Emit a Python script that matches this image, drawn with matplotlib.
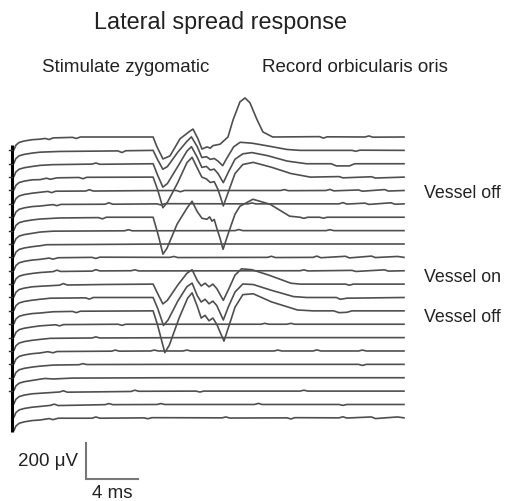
import matplotlib
matplotlib.use("Agg")
import matplotlib.pyplot as plt

plt.rcParams["font.family"] = ["Liberation Sans", "DejaVu Sans"]

# every sweep: (time ms, amplitude uV) keypoints, relative to the sweep's own baseline
start_t = [0.0, 0.15, 0.4, 0.8, 1.4]
start_v = [-70, -45, -30, -22, -15]

sweep_00 = [(2.0, -12), (2.4, -8), (2.7, -14), (3.0, -5), (4.5, -2), (4.8, -8), (5.1, 0), (10.7, 0), (11.0, -55),
            (11.46, -122), (12.0, -105), (12.77, -10), (13.54, 33), (13.77, 44), (14.15, -10), (14.46, -67),
            (14.85, -55), (15.1, -62), (15.3, -48), (15.85, -40), (16.46, 0), (16.85, 95), (17.38, 195),
            (17.77, 217), (18.15, 190), (18.7, 95), (19.15, 28), (19.9, 0), (23.5, 2), (23.8, -6), (24.1, 1),
            (27.0, 0), (27.3, 6), (27.6, -1), (30.0, 0)]
sweep_01 = [(2.0, -10), (3.5, -6), (8.0, -3), (8.3, -12), (8.6, -2), (10.7, 0), (11.0, -45), (11.45, -105),
            (11.8, -90), (12.6, -10), (13.3, 50), (13.65, 75), (14.1, 20), (14.45, -40), (14.8, -35),
            (15.1, -50), (15.4, -45), (15.7, -60), (16.05, -85), (16.4, -40), (16.9, 20), (17.4, 45),
            (18.3, 40), (19.5, 25), (21.0, 5), (22.0, 0), (26.0, 0), (26.3, -5), (26.6, 1), (30.0, 0)]
sweep_02 = [(2.0, -9), (3.0, -5), (6.0, -2), (6.3, 4), (6.6, -3), (10.7, 0), (11.0, -55), (11.45, -130),
            (11.8, -110), (12.6, -15), (13.3, 70), (13.65, 95), (14.1, 35), (14.45, -20), (14.8, -15),
            (15.1, -35), (15.4, -30), (15.7, -55), (16.1, -105), (16.5, -45), (17.0, 25), (17.6, 55),
            (18.3, 62), (19.5, 45), (21.0, 15), (22.5, 0), (24.4, 0), (24.8, -12), (25.8, -12), (26.2, 0),
            (30.0, 0)]
sweep_03 = [(2.0, -14), (2.5, -6), (2.8, -12), (3.3, -4), (5.0, -2), (5.3, -9), (5.6, -1), (10.7, 0),
            (11.05, -70), (11.45, -170), (11.8, -140), (12.6, -30), (13.3, 80), (13.7, 110), (14.1, 50),
            (14.45, 0), (14.8, -10), (15.1, -30), (15.4, -25), (15.7, -70), (16.1, -160), (16.5, -80),
            (17.0, 20), (17.6, 70), (18.4, 82), (19.8, 55), (21.3, 20), (22.8, 0), (25.0, 3), (25.3, -4),
            (27.5, 2), (27.8, -5), (30.0, 0)]
sweep_04 = [(2.0, -10), (2.6, -5), (2.9, -12), (3.2, -4), (5.5, -3), (5.8, 4), (6.1, -3), (9.5, -1),
            (12.5, 0), (12.8, -7), (13.1, 0), (20.5, 0), (20.8, 5), (21.1, -1), (24.0, 0), (24.3, 6),
            (24.6, -2), (26.5, 3), (26.8, -4), (28.5, 5), (28.8, -3), (30.0, 0)]
sweep_05 = [(2.0, -12), (3.0, -4), (3.3, -10), (3.6, -3), (7.0, -2), (7.3, 6), (7.6, -2), (11.0, 0),
            (11.3, -6), (11.6, 1), (18.0, 0), (18.3, 5), (18.6, 0), (25.0, 0), (25.3, 7), (25.6, -1),
            (27.0, 4), (27.3, -3), (29.0, 6), (29.3, -2), (30.0, 0)]
sweep_06 = [(2.0, -10), (3.5, -4), (6.5, -2), (6.8, -9), (7.1, 0), (10.7, 0), (11.08, -95), (11.46, -205),
            (11.77, -172), (12.54, -39), (13.3, 50), (13.7, 89), (14.08, 33), (14.46, -6), (14.85, -11),
            (15.05, 2), (15.23, -22), (15.4, -12), (15.6, -61), (15.85, -117), (16.08, -178), (16.46, -95),
            (17.0, 17), (17.38, 61), (18.38, 100), (19.7, 72), (21.2, 6), (22.0, 0), (22.3, -6), (22.6, 0),
            (23.5, 0), (23.8, -5), (24.1, 0), (30.0, 0)]
sweep_07 = [(2.0, -8), (3.0, -3), (8.5, -1), (8.8, 5), (9.1, -1), (17.0, 0), (17.3, 6), (17.6, 0),
            (24.0, 0), (24.3, 5), (24.6, 0), (30.0, 0)]
sweep_08 = [(2.0, -10), (2.5, -4), (5.0, -3), (12.0, 0), (30.0, 0)]
sweep_09 = [(2.0, -11), (2.7, -4), (3.0, -10), (3.4, -2), (6.0, 0), (6.3, -6), (6.6, 1), (12.0, 0),
            (12.3, 5), (12.6, -1), (19.5, 0), (19.8, 6), (20.1, -1), (23.0, 0), (23.3, 7), (23.6, -2),
            (25.5, 6), (25.8, -3), (27.5, 7), (27.8, -1), (29.5, 5), (30.0, 0)]
sweep_10 = [(2.0, -10), (3.0, -5), (3.3, 3), (3.6, -4), (6.0, -2), (6.3, 6), (6.6, -1), (9.0, 0),
            (9.3, 5), (9.6, -1), (22.0, 0), (22.3, 5), (22.6, -1), (26.0, 2), (26.3, -4), (28.5, 5),
            (28.8, -2), (30.0, 0)]
sweep_11 = [(2.0, -12), (3.5, -6), (3.8, 3), (4.1, -5), (7.0, -2), (10.7, 0), (11.0, -45), (11.45, -110),
            (11.8, -90), (12.6, -5), (13.3, 60), (13.7, 80), (14.1, 20), (14.4, -10), (14.7, 5),
            (15.0, -15), (15.3, 0), (15.6, -25), (16.1, -90), (16.5, -30), (17.0, 50), (17.5, 85),
            (18.3, 80), (19.6, 50), (21.3, 5), (22.0, 0), (25.5, 0), (25.8, -6), (26.1, 0), (30.0, 0)]
sweep_12 = [(2.0, -10), (2.8, -4), (5.5, -2), (5.8, -9), (6.1, 0), (10.7, 0), (11.05, -60), (11.5, -155),
            (11.85, -125), (12.6, -20), (13.3, 60), (13.7, 80), (14.1, 10), (14.4, -25), (14.7, -10),
            (15.0, -35), (15.3, -20), (15.6, -45), (16.1, -125), (16.5, -50), (17.0, 30), (17.6, 75),
            (18.4, 72), (19.8, 40), (21.5, 5), (22.5, 0), (24.8, 0), (25.1, -10), (25.6, -4), (30.0, 0)]
sweep_13 = [(2.0, -12), (3.0, -5), (4.5, -3), (4.8, -10), (5.1, -2), (10.7, 0), (11.05, -80),
            (11.6, -232), (11.95, -190), (12.7, -40), (13.35, 70), (13.7, 100), (14.1, 25), (14.4, -40),
            (14.7, -25), (15.0, -55), (15.3, -40), (15.6, -75), (16.15, -168), (16.55, -80), (17.0, 20),
            (17.6, 90), (18.4, 95), (19.8, 50), (21.8, 5), (23.0, 0), (24.6, 0), (25.0, -10), (25.6, -8),
            (26.0, 0), (30.0, 0)]
sweep_14 = [(2.0, -9), (3.2, -3), (3.5, -9), (3.8, -2), (8.0, 0), (8.3, -6), (8.6, 0), (19.0, 0),
            (19.3, 5), (19.6, 0), (21.0, 0), (21.3, 5), (21.6, 0), (30.0, 0)]
sweep_15 = [(2.0, -10), (2.8, -4), (6.0, -2), (6.3, 4), (6.6, -2), (14.0, 0), (30.0, 0)]
sweep_16 = [(2.0, -11), (2.6, -4), (3.0, -10), (3.3, -3), (7.5, -1), (7.8, 5), (8.1, -1), (10.5, 0),
            (10.8, 5), (11.1, 0), (13.0, 0), (13.3, 5), (13.6, 0), (20.0, 0), (20.3, 5), (20.6, 0),
            (23.0, 0), (23.3, 6), (23.6, 0), (26.5, 0), (26.8, 5), (27.1, 0), (30.0, 0)]
sweep_17 = [(2.0, -10), (3.0, -4), (5.0, -2), (5.3, 4), (5.6, -1), (12.0, 0), (26.5, 0), (26.8, -6),
            (27.1, 0), (30.0, 0)]
sweep_18 = [(2.0, -8), (2.4, -4), (3.0, -7), (4.5, -2), (12.0, 0), (30.0, 0)]
sweep_19 = [(2.0, -12), (3.5, -5), (3.8, 2), (4.1, -6), (9.0, -2), (9.3, 5), (9.6, -1), (14.0, 0),
            (14.3, -5), (14.6, 0), (22.0, 0), (22.3, 5), (22.6, 0), (30.0, 0)]
sweep_20 = [(2.0, -11), (2.8, -5), (3.1, 2), (3.4, -6), (7.0, -1), (7.3, 5), (7.6, -1), (11.0, 0),
            (11.3, 5), (11.6, 0), (18.5, 0), (18.8, 6), (19.1, 0), (25.0, 0), (25.3, -5), (25.6, 0),
            (30.0, 0)]
sweep_21 = [(2.0, -12), (2.7, -4), (3.0, -10), (3.4, -2), (6.0, -2), (6.3, 5), (6.6, -2), (10.0, 0),
            (10.3, -5), (10.6, 1), (16.0, 0), (16.3, 5), (16.6, -1), (21.0, 0), (21.3, -6), (21.6, 1),
            (25.0, 0), (25.3, 6), (25.6, -1), (27.5, 5), (27.8, -4), (29.5, 5), (30.0, 0)]

sweeps = [sweep_00, sweep_01, sweep_02, sweep_03, sweep_04, sweep_05, sweep_06, sweep_07, sweep_08, sweep_09,
          sweep_10, sweep_11, sweep_12, sweep_13, sweep_14, sweep_15, sweep_16, sweep_17, sweep_18, sweep_19,
          sweep_20, sweep_21]

labels = ["Vessel off", "Vessel on", "Vessel off"]
label_y = [193, 278, 318]  # pixel rows of the side labels

sweep_gap = 74.3  # uV between stacked sweeps
bar_uv = 200
bar_ms = 4

fig = plt.figure(figsize=(5.09, 5.01), dpi=100)
ax = fig.add_axes([0, 0, 1, 1])
ax.set_xlim(-14 / 13, 495 / 13)   # 13 px per ms, sweep start at x=14 px
ax.set_ylim(-364 / 0.18, 137 / 0.18)  # 0.18 px per uV, top sweep at y=137 px
ax.axis("off")

for i, sw in enumerate(sweeps):
    off = -i * sweep_gap
    t = start_t + [p[0] for p in sw]
    v = [off + a for a in start_v] + [off + p[1] for p in sw]
    ax.plot(t, v, color="#4f4f4f", lw=1.2, solid_joinstyle="round")

# left vertical bar with small ticks
ax.plot([-0.12, -0.12], [-44, -1640], color="black", lw=2.2, solid_capstyle="butt")
for i in range(1, 20):
    ax.plot([-0.38, -0.12], [-i * sweep_gap, -i * sweep_gap], color="#333333", lw=1.0)

# scale bar
bx, by = 5.54, -1900
ax.plot([bx, bx, bx + bar_ms], [by + bar_uv, by, by], color="#777777", lw=1.5, solid_joinstyle="miter")

W, H = 509, 501
fig.text(221 / W, 1 - 22 / H, "Lateral spread response", ha="center", va="center", fontsize=16.8, color="#222222")
fig.text(42 / W, 1 - 68 / H, "Stimulate zygomatic", ha="left", va="center", fontsize=13.5, color="#222222")
fig.text(262 / W, 1 - 68 / H, "Record orbicularis oris", ha="left", va="center", fontsize=13.5, color="#222222")
for lab, yy in zip(labels, label_y):
    fig.text(424 / W, 1 - yy / H, lab, ha="left", va="center", fontsize=12.8, color="#222222")
fig.text(78 / W, 1 - 462 / H, "200 \u03bcV", ha="right", va="center", fontsize=13.5, color="#222222")
fig.text(112 / W, 1 - 493 / H, "4 ms", ha="center", va="center", fontsize=13.5, color="#222222")

fig.savefig("out.png", dpi=100)
